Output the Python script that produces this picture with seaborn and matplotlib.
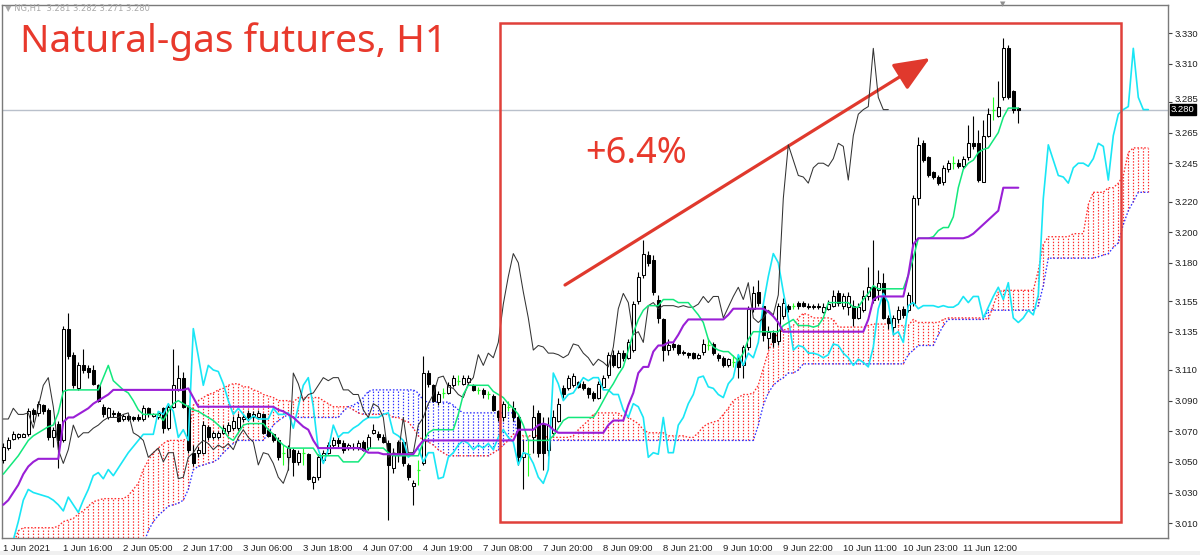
import numpy as np
import matplotlib
matplotlib.use("Agg")
import matplotlib.pyplot as plt
import seaborn as sns
from matplotlib.patches import Rectangle
from matplotlib.transforms import blended_transform_factory, ScaledTranslation

# ---------------- data ----------------
time_labels = ["1 Jun 2021", "1 Jun 16:00", "2 Jun 05:00", "2 Jun 17:00", "3 Jun 06:00",
               "3 Jun 18:00", "4 Jun 07:00", "4 Jun 19:00", "7 Jun 08:00", "7 Jun 20:00",
               "8 Jun 09:00", "8 Jun 21:00", "9 Jun 10:00", "9 Jun 22:00", "10 Jun 11:00",
               "10 Jun 23:00", "11 Jun 12:00"]
label_bars = [0, 12, 24, 36, 48, 60, 72, 84, 96, 108, 120, 132, 144, 156, 168, 180, 192]
price_ticks = [3.330, 3.310, 3.285, 3.265, 3.245, 3.220, 3.200, 3.180, 3.155,
               3.135, 3.110, 3.090, 3.070, 3.050, 3.030, 3.010]
last_price = 3.280

open_ = [3.051, 3.059, 3.065, 3.066, 3.066, 3.068, 3.084, 3.082, 3.087, 3.084,
         3.066, 3.075, 3.064, 3.137, 3.120, 3.098, 3.113, 3.111, 3.110, 3.100,
         3.086, 3.079, 3.082, 3.082, 3.078, 3.080, 3.079, 3.079, 3.078, 3.085,
         3.080, 3.079, 3.085, 3.072, 3.086, 3.097, 3.105, 3.086, 3.056, 3.056,
         3.056, 3.073, 3.066, 3.066, 3.069, 3.070, 3.072, 3.072, 3.078, 3.082,
         3.079, 3.079, 3.081, 3.071, 3.068, 3.064, 3.056, 3.053, 3.058, 3.050,
         3.056, 3.055, 3.037, 3.040, 3.051, 3.056, 3.061, 3.064, 3.062, 3.059,
         3.060, 3.060, 3.063, 3.059, 3.069, 3.068, 3.066, 3.062, 3.046, 3.063,
         3.063, 3.048, 3.034, 3.045, 3.049, 3.108, 3.100, 3.089, 3.095, 3.095,
         3.100, 3.103, 3.101, 3.102, 3.100, 3.097, 3.097, 3.094, 3.093, 3.083,
         3.079, 3.086, 3.085, 3.079, 3.053, 3.055, 3.066, 3.082, 3.075, 3.058,
         3.069, 3.077, 3.098, 3.098, 3.100, 3.102, 3.101, 3.098, 3.095, 3.092,
         3.099, 3.107, 3.120, 3.112, 3.121, 3.118, 3.123, 3.155, 3.172, 3.185,
         3.182, 3.156, 3.143, 3.123, 3.127, 3.126, 3.122, 3.121, 3.121, 3.118,
         3.122, 3.126, 3.127, 3.120, 3.118, 3.113, 3.115, 3.117, 3.113, 3.125,
         3.150, 3.161, 3.152, 3.131, 3.134, 3.129, 3.145, 3.152, 3.152, 3.154,
         3.154, 3.152, 3.151, 3.152, 3.148, 3.150, 3.152, 3.160, 3.152, 3.151,
         3.152, 3.144, 3.149, 3.158, 3.164, 3.162, 3.167, 3.144, 3.138, 3.143,
         3.150, 3.149, 3.154, 3.222, 3.258, 3.249, 3.239, 3.236, 3.233, 3.241,
         3.245, 3.245, 3.243, 3.249, 3.258, 3.258, 3.233, 3.263, 3.280, 3.276,
         3.288, 3.320, 3.292, 3.281]
high = [3.062, 3.066, 3.070, 3.069, 3.069, 3.085, 3.085, 3.090, 3.088, 3.085,
        3.073, 3.077, 3.139, 3.147, 3.122, 3.115, 3.124, 3.113, 3.113, 3.101,
        3.088, 3.086, 3.084, 3.083, 3.081, 3.081, 3.080, 3.081, 3.087, 3.086,
        3.082, 3.083, 3.086, 3.087, 3.124, 3.113, 3.109, 3.087, 3.061, 3.060,
        3.077, 3.074, 3.070, 3.070, 3.074, 3.076, 3.080, 3.082, 3.081, 3.084,
        3.083, 3.084, 3.082, 3.072, 3.069, 3.066, 3.061, 3.061, 3.059, 3.058,
        3.059, 3.056, 3.041, 3.055, 3.058, 3.063, 3.066, 3.066, 3.064, 3.062,
        3.062, 3.064, 3.064, 3.068, 3.075, 3.070, 3.068, 3.064, 3.059, 3.064,
        3.064, 3.049, 3.038, 3.051, 3.119, 3.110, 3.101, 3.096, 3.098, 3.102,
        3.107, 3.107, 3.107, 3.107, 3.101, 3.099, 3.098, 3.096, 3.094, 3.084,
        3.090, 3.090, 3.090, 3.081, 3.064, 3.064, 3.087, 3.084, 3.079, 3.079,
        3.084, 3.092, 3.100, 3.107, 3.108, 3.103, 3.103, 3.099, 3.096, 3.103,
        3.107, 3.122, 3.123, 3.123, 3.123, 3.130, 3.155, 3.174, 3.195, 3.188,
        3.185, 3.159, 3.144, 3.130, 3.129, 3.127, 3.123, 3.122, 3.122, 3.121,
        3.130, 3.131, 3.128, 3.121, 3.119, 3.118, 3.120, 3.120, 3.126, 3.152,
        3.165, 3.169, 3.154, 3.139, 3.136, 3.154, 3.157, 3.153, 3.154, 3.155,
        3.155, 3.154, 3.153, 3.154, 3.154, 3.156, 3.162, 3.162, 3.160, 3.161,
        3.156, 3.154, 3.162, 3.177, 3.195, 3.175, 3.173, 3.146, 3.146, 3.152,
        3.152, 3.161, 3.224, 3.262, 3.260, 3.250, 3.240, 3.237, 3.244, 3.247,
        3.250, 3.248, 3.250, 3.270, 3.276, 3.267, 3.273, 3.281, 3.288, 3.299,
        3.327, 3.322, 3.293, 3.282]
low = [3.049, 3.058, 3.064, 3.065, 3.066, 3.067, 3.076, 3.080, 3.081, 3.064,
       3.060, 3.046, 3.063, 3.117, 3.098, 3.097, 3.108, 3.105, 3.100, 3.089,
       3.079, 3.078, 3.079, 3.076, 3.077, 3.077, 3.077, 3.077, 3.077, 3.079,
       3.079, 3.078, 3.069, 3.071, 3.085, 3.096, 3.085, 3.056, 3.047, 3.053,
       3.055, 3.064, 3.065, 3.065, 3.068, 3.068, 3.071, 3.071, 3.076, 3.077,
       3.077, 3.078, 3.068, 3.066, 3.063, 3.051, 3.048, 3.045, 3.041, 3.048,
       3.048, 3.038, 3.032, 3.038, 3.050, 3.055, 3.060, 3.060, 3.056, 3.058,
       3.058, 3.058, 3.057, 3.058, 3.068, 3.064, 3.062, 3.012, 3.043, 3.050,
       3.047, 3.038, 3.022, 3.035, 3.048, 3.099, 3.089, 3.087, 3.092, 3.094,
       3.099, 3.100, 3.100, 3.100, 3.096, 3.094, 3.092, 3.091, 3.083, 3.077,
       3.077, 3.083, 3.077, 3.048, 3.032, 3.041, 3.056, 3.053, 3.045, 3.054,
       3.067, 3.076, 3.092, 3.097, 3.099, 3.098, 3.097, 3.092, 3.090, 3.091,
       3.098, 3.105, 3.112, 3.111, 3.116, 3.117, 3.122, 3.153, 3.170, 3.178,
       3.159, 3.141, 3.116, 3.120, 3.123, 3.120, 3.120, 3.118, 3.117, 3.117,
       3.120, 3.123, 3.120, 3.116, 3.112, 3.112, 3.112, 3.105, 3.105, 3.123,
       3.148, 3.152, 3.129, 3.124, 3.125, 3.126, 3.143, 3.148, 3.150, 3.150,
       3.151, 3.150, 3.150, 3.150, 3.147, 3.149, 3.151, 3.152, 3.150, 3.146,
       3.139, 3.143, 3.148, 3.156, 3.154, 3.156, 3.143, 3.137, 3.133, 3.141,
       3.144, 3.148, 3.152, 3.218, 3.246, 3.236, 3.235, 3.231, 3.231, 3.239,
       3.241, 3.242, 3.241, 3.247, 3.254, 3.233, 3.233, 3.262, 3.273, 3.275,
       3.286, 3.287, 3.278, 3.271]
close = [3.060, 3.064, 3.068, 3.068, 3.068, 3.083, 3.081, 3.088, 3.083, 3.066,
         3.071, 3.064, 3.137, 3.119, 3.100, 3.113, 3.110, 3.109, 3.101, 3.090,
         3.081, 3.085, 3.081, 3.077, 3.080, 3.078, 3.078, 3.078, 3.085, 3.081,
         3.081, 3.082, 3.072, 3.086, 3.100, 3.105, 3.086, 3.058, 3.049, 3.058,
         3.074, 3.066, 3.069, 3.069, 3.072, 3.074, 3.077, 3.079, 3.079, 3.079,
         3.081, 3.082, 3.069, 3.067, 3.064, 3.053, 3.056, 3.059, 3.050, 3.056,
         3.056, 3.039, 3.040, 3.053, 3.056, 3.061, 3.064, 3.062, 3.058, 3.061,
         3.059, 3.062, 3.058, 3.066, 3.071, 3.066, 3.063, 3.048, 3.056, 3.055,
         3.049, 3.040, 3.036, 3.045, 3.108, 3.101, 3.090, 3.094, 3.095, 3.100,
         3.105, 3.103, 3.105, 3.105, 3.097, 3.097, 3.094, 3.094, 3.084, 3.079,
         3.088, 3.086, 3.079, 3.053, 3.056, 3.055, 3.079, 3.056, 3.056, 3.074,
         3.079, 3.088, 3.094, 3.105, 3.106, 3.099, 3.098, 3.094, 3.092, 3.101,
         3.105, 3.120, 3.113, 3.121, 3.118, 3.128, 3.153, 3.171, 3.186, 3.180,
         3.161, 3.144, 3.123, 3.126, 3.125, 3.121, 3.121, 3.120, 3.118, 3.120,
         3.127, 3.126, 3.121, 3.118, 3.113, 3.117, 3.115, 3.112, 3.125, 3.150,
         3.160, 3.154, 3.133, 3.135, 3.128, 3.152, 3.154, 3.150, 3.152, 3.152,
         3.152, 3.151, 3.152, 3.151, 3.151, 3.153, 3.158, 3.154, 3.158, 3.158,
         3.144, 3.151, 3.158, 3.164, 3.156, 3.167, 3.144, 3.141, 3.144, 3.149,
         3.146, 3.159, 3.222, 3.257, 3.247, 3.237, 3.236, 3.232, 3.242, 3.245,
         3.245, 3.243, 3.248, 3.258, 3.256, 3.234, 3.263, 3.277, 3.280, 3.282,
         3.320, 3.288, 3.280, 3.280]
# closes of the 26 bars before the first visible bar (seen in the forward-shifted line)
prior_close = [2.983, 2.989, 2.999, 3.011, 3.025, 3.032, 3.030, 3.029, 3.028, 3.027,
               3.025, 3.022, 3.018, 3.027, 3.022, 3.017, 3.025, 3.032, 3.041, 3.043,
               3.039, 3.045, 3.041, 3.046, 3.051, 3.056]
tenkan = [3.042, 3.046, 3.050, 3.054, 3.059, 3.064, 3.067, 3.069, 3.071, 3.073,
          3.074, 3.082, 3.096, 3.097, 3.097, 3.097, 3.097, 3.097, 3.097, 3.097,
          3.105, 3.113, 3.103, 3.100, 3.097, 3.095, 3.090, 3.084, 3.081, 3.081,
          3.081, 3.081, 3.077, 3.083, 3.088, 3.090, 3.088, 3.086, 3.084, 3.083,
          3.081, 3.079, 3.077, 3.074, 3.071, 3.066, 3.064, 3.069, 3.074, 3.075,
          3.075, 3.075, 3.075, 3.071, 3.068, 3.064, 3.061, 3.059, 3.059, 3.059,
          3.059, 3.059, 3.059, 3.054, 3.054, 3.054, 3.054, 3.054, 3.050, 3.050,
          3.050, 3.050, 3.054, 3.059, 3.059, 3.059, 3.059, 3.056, 3.054, 3.054,
          3.054, 3.054, 3.054, 3.054, 3.063, 3.069, 3.071, 3.071, 3.071, 3.071,
          3.071, 3.081, 3.094, 3.100, 3.100, 3.100, 3.100, 3.100, 3.096, 3.094,
          3.092, 3.088, 3.085, 3.081, 3.074, 3.064, 3.064, 3.064, 3.064, 3.064,
          3.067, 3.072, 3.077, 3.079, 3.079, 3.079, 3.079, 3.079, 3.079, 3.084,
          3.090, 3.096, 3.101, 3.107, 3.112, 3.123, 3.134, 3.143, 3.149, 3.152,
          3.152, 3.152, 3.156, 3.156, 3.156, 3.154, 3.154, 3.154, 3.150, 3.146,
          3.141, 3.130, 3.125, 3.123, 3.122, 3.122, 3.119, 3.116, 3.121, 3.130,
          3.135, 3.135, 3.135, 3.135, 3.135, 3.135, 3.139, 3.141, 3.143, 3.139,
          3.139, 3.139, 3.138, 3.139, 3.144, 3.154, 3.154, 3.154, 3.154, 3.154,
          3.151, 3.151, 3.156, 3.160, 3.165, 3.163, 3.163, 3.163, 3.163, 3.163,
          3.163, 3.172, 3.183, 3.196, 3.196, 3.196, 3.197, 3.201, 3.203, 3.203,
          3.210, 3.229, 3.241, 3.245, 3.247, 3.252, 3.254, 3.255, 3.260, 3.265,
          3.275, 3.281, 3.281, 3.281]
kijun = [3.022, 3.025, 3.030, 3.035, 3.042, 3.047, 3.050, 3.052, 3.052, 3.052,
         3.052, 3.052, 3.076, 3.079, 3.079, 3.081, 3.083, 3.085, 3.088, 3.090,
         3.092, 3.094, 3.097, 3.097, 3.097, 3.097, 3.097, 3.097, 3.097, 3.097,
         3.097, 3.097, 3.097, 3.097, 3.097, 3.097, 3.097, 3.098, 3.092, 3.086,
         3.086, 3.086, 3.086, 3.086, 3.086, 3.086, 3.086, 3.086, 3.086, 3.086,
         3.086, 3.086, 3.086, 3.086, 3.086, 3.084, 3.083, 3.081, 3.079, 3.076,
         3.073, 3.071, 3.064, 3.059, 3.059, 3.059, 3.059, 3.059, 3.059, 3.059,
         3.059, 3.059, 3.058, 3.056, 3.056, 3.056, 3.055, 3.055, 3.055, 3.055,
         3.055, 3.055, 3.055, 3.060, 3.064, 3.064, 3.064, 3.064, 3.064, 3.064,
         3.064, 3.064, 3.064, 3.064, 3.064, 3.064, 3.064, 3.064, 3.064, 3.064,
         3.064, 3.064, 3.064, 3.071, 3.071, 3.071, 3.071, 3.074, 3.075, 3.074,
         3.071, 3.069, 3.069, 3.069, 3.069, 3.069, 3.069, 3.069, 3.069, 3.069,
         3.069, 3.074, 3.077, 3.077, 3.077, 3.087, 3.095, 3.108, 3.112, 3.112,
         3.122, 3.126, 3.126, 3.128, 3.128, 3.133, 3.139, 3.143, 3.143, 3.143,
         3.143, 3.143, 3.143, 3.143, 3.143, 3.146, 3.150, 3.150, 3.150, 3.150,
         3.150, 3.150, 3.150, 3.148, 3.145, 3.141, 3.135, 3.135, 3.135, 3.135,
         3.135, 3.135, 3.135, 3.135, 3.135, 3.135, 3.135, 3.135, 3.135, 3.135,
         3.135, 3.135, 3.135, 3.143, 3.156, 3.158, 3.158, 3.158, 3.158, 3.158,
         3.158, 3.172, 3.192, 3.196, 3.196, 3.196, 3.196, 3.196, 3.196, 3.196,
         3.196, 3.196, 3.196, 3.197, 3.199, 3.202, 3.205, 3.208, 3.211, 3.214,
         3.229, 3.229, 3.229, 3.229]
span_a = [2.986, 2.989, 2.996, 3.005, 3.007, 3.007, 3.007, 3.007, 3.007, 3.007,
          3.007, 3.008, 3.011, 3.012, 3.013, 3.016, 3.018, 3.021, 3.024, 3.025,
          3.026, 3.026, 3.026, 3.026, 3.026, 3.028, 3.032, 3.036, 3.045, 3.051,
          3.056, 3.059, 3.062, 3.064, 3.064, 3.064, 3.064, 3.066, 3.087, 3.090,
          3.092, 3.094, 3.095, 3.097, 3.098, 3.100, 3.101, 3.101, 3.099, 3.099,
          3.097, 3.096, 3.094, 3.093, 3.092, 3.090, 3.090, 3.090, 3.089, 3.092,
          3.092, 3.092, 3.092, 3.092, 3.090, 3.088, 3.086, 3.086, 3.086, 3.086,
          3.084, 3.082, 3.081, 3.081, 3.081, 3.081, 3.081, 3.081, 3.079, 3.079,
          3.077, 3.076, 3.072, 3.067, 3.064, 3.063, 3.061, 3.058, 3.056, 3.054,
          3.054, 3.054, 3.054, 3.054, 3.054, 3.054, 3.054, 3.054, 3.056, 3.058,
          3.061, 3.064, 3.068, 3.069, 3.067, 3.067, 3.067, 3.067, 3.067, 3.066,
          3.066, 3.066, 3.066, 3.066, 3.067, 3.071, 3.074, 3.077, 3.081, 3.082,
          3.082, 3.082, 3.082, 3.082, 3.079, 3.079, 3.077, 3.075, 3.071, 3.069,
          3.069, 3.069, 3.069, 3.067, 3.067, 3.067, 3.067, 3.066, 3.066, 3.069,
          3.073, 3.075, 3.076, 3.077, 3.081, 3.085, 3.090, 3.092, 3.094, 3.094,
          3.095, 3.100, 3.111, 3.122, 3.130, 3.134, 3.136, 3.137, 3.139, 3.144,
          3.147, 3.146, 3.144, 3.144, 3.144, 3.144, 3.143, 3.138, 3.138, 3.138,
          3.138, 3.138, 3.138, 3.139, 3.140, 3.140, 3.140, 3.140, 3.139, 3.139,
          3.139, 3.139, 3.143, 3.141, 3.141, 3.141, 3.141, 3.141, 3.143, 3.144,
          3.144, 3.144, 3.144, 3.144, 3.144, 3.144, 3.144, 3.143, 3.152, 3.161,
          3.162, 3.162, 3.162, 3.162, 3.162, 3.162, 3.162, 3.175, 3.192, 3.197,
          3.197, 3.197, 3.197, 3.197, 3.199, 3.199, 3.199, 3.218, 3.226, 3.226,
          3.226, 3.229, 3.229, 3.232, 3.237, 3.252, 3.255, 3.255, 3.255, 3.255]
span_b = [2.975, 2.975, 2.975, 2.975, 2.975, 2.975, 2.975, 2.975, 2.975, 2.975,
          2.975, 2.975, 2.975, 2.975, 2.975, 2.975, 2.975, 2.975, 2.975, 2.975,
          2.975, 2.975, 2.975, 2.975, 2.975, 2.975, 2.975, 2.975, 2.996, 3.005,
          3.011, 3.015, 3.018, 3.021, 3.022, 3.023, 3.025, 3.032, 3.045, 3.047,
          3.048, 3.049, 3.050, 3.052, 3.056, 3.059, 3.062, 3.064, 3.064, 3.064,
          3.064, 3.064, 3.064, 3.069, 3.074, 3.077, 3.079, 3.081, 3.079, 3.079,
          3.079, 3.079, 3.079, 3.079, 3.079, 3.079, 3.079, 3.079, 3.083, 3.086,
          3.087, 3.089, 3.092, 3.096, 3.097, 3.097, 3.097, 3.097, 3.097, 3.097,
          3.097, 3.097, 3.097, 3.095, 3.090, 3.089, 3.089, 3.089, 3.089, 3.089,
          3.087, 3.084, 3.082, 3.082, 3.082, 3.082, 3.082, 3.082, 3.082, 3.082,
          3.082, 3.082, 3.082, 3.064, 3.064, 3.064, 3.064, 3.064, 3.064, 3.064,
          3.064, 3.064, 3.064, 3.064, 3.064, 3.064, 3.064, 3.064, 3.064, 3.064,
          3.064, 3.064, 3.064, 3.064, 3.064, 3.064, 3.064, 3.064, 3.064, 3.064,
          3.064, 3.064, 3.064, 3.064, 3.064, 3.064, 3.064, 3.064, 3.064, 3.064,
          3.064, 3.064, 3.064, 3.064, 3.064, 3.064, 3.064, 3.064, 3.064, 3.064,
          3.064, 3.074, 3.087, 3.095, 3.100, 3.103, 3.105, 3.108, 3.108, 3.110,
          3.114, 3.114, 3.114, 3.114, 3.114, 3.114, 3.114, 3.114, 3.114, 3.114,
          3.114, 3.114, 3.114, 3.114, 3.114, 3.114, 3.114, 3.114, 3.114, 3.114,
          3.114, 3.120, 3.123, 3.126, 3.126, 3.126, 3.126, 3.133, 3.139, 3.143,
          3.143, 3.143, 3.143, 3.143, 3.143, 3.143, 3.143, 3.149, 3.149, 3.149,
          3.149, 3.149, 3.149, 3.149, 3.149, 3.149, 3.149, 3.152, 3.165, 3.183,
          3.183, 3.183, 3.183, 3.183, 3.183, 3.183, 3.183, 3.183, 3.183, 3.184,
          3.185, 3.186, 3.190, 3.193, 3.205, 3.214, 3.220, 3.226, 3.226, 3.226]

SHIFT = 26

# ---------------- style ----------------
sns.set_style("white")
plt.rcParams['font.family'] = ['Liberation Sans', 'DejaVu Sans']

RED_TXT = '#e8392c'
GREEN = '#12e87c'
PURPLE = '#9a1fd6'
CYAN = '#19e6f5'
CLOUD_RED = '#ff2a2a'
CLOUD_BLUE = '#2f2fff'
LIME = '#22ff22'
DOT = (0, (1.2, 1.4))

fig = plt.figure(figsize=(12, 5.55), dpi=100)
fig.patch.set_facecolor('white')
ax = fig.add_axes([2 / 1200, 1 - 538 / 555, 1166 / 1200, 533 / 555])
ax.set_facecolor('white')

o = np.array(open_); h = np.array(high); l = np.array(low); c = np.array(close)
bars = np.arange(len(c))

# ---- Ichimoku cloud (vertical dotted hatching) ----
a = np.array(span_a); b = np.array(span_b)
cx = np.arange(len(a))
up = a >= b
ax.vlines(cx[up], b[up], a[up], colors=CLOUD_RED, linestyles=DOT, lw=0.85, zorder=1)
ax.vlines(cx[~up], a[~up], b[~up], colors=CLOUD_BLUE, linestyles=DOT, lw=0.85, zorder=1)
ax.plot(cx, a, color=CLOUD_RED, ls=DOT, lw=0.95, zorder=1.5)
ax.plot(cx, b, color=CLOUD_BLUE, ls=DOT, lw=0.95, zorder=1.5)

# ---- candles ----
doji = o == c
upc = (c > o)
dnc = (c < o)
nd = ~doji
ax.vlines(bars[nd], l[nd], h[nd], colors='black', lw=0.8, zorder=3)
body_lo = np.minimum(o, c); body_h = np.abs(c - o)
ax.bar(bars[upc], body_h[upc], bottom=body_lo[upc], width=0.62, color='white',
       edgecolor='black', linewidth=0.75, zorder=3.2)
ax.bar(bars[dnc], body_h[dnc], bottom=body_lo[dnc], width=0.62, color='black',
       edgecolor='black', linewidth=0.75, zorder=3.2)
ax.vlines(bars[doji], l[doji], h[doji], colors=LIME, lw=0.8, zorder=3)
ax.hlines(c[doji], bars[doji] - 0.35, bars[doji] + 0.35, colors=LIME, lw=0.9, zorder=3)

# ---- indicator lines ----
all_close = np.array(prior_close + close)
sns.lineplot(x=np.arange(len(all_close)), y=all_close, color=CYAN, lw=1.2, ax=ax, zorder=4)
sns.lineplot(x=bars[:-SHIFT], y=c[SHIFT:], color='#333333', lw=0.75, ax=ax, zorder=4)
sns.lineplot(x=bars, y=np.array(tenkan), color=GREEN, lw=1.1, ax=ax, zorder=4.2)
sns.lineplot(x=bars, y=np.array(kijun), color=PURPLE, lw=1.5, ax=ax, zorder=4.3)

# current price line
ax.axhline(last_price, color='#b9c0cb', lw=1.0, zorder=0.8)

# ---- axes ----
ax.set_xlim(-0.26, 232.94)
ax.set_ylim(3.0003, 3.3483)
for s in ax.spines.values():
    s.set_color('#7a7a7a'); s.set_linewidth(1.0)
ax.yaxis.tick_right()
ax.set_yticks(price_ticks)
ax.set_yticklabels([f"{v:.3f}" for v in price_ticks])
ax.tick_params(axis='y', direction='out', length=3, width=0.8, labelsize=6.8,
               pad=2, color='#404040', labelcolor='#202020')
ax.set_xticks(label_bars)
ax.set_xticklabels(time_labels)
ax.tick_params(axis='x', direction='out', length=3, width=0.8, labelsize=6.8,
               pad=1, color='#404040', labelcolor='#202020')
for lab in ax.get_xticklabels():
    lab.set_horizontalalignment('left')
# nudge the label just above the price tag upward a little (as in the original)
for lab, v in zip(ax.get_yticklabels(), price_ticks):
    if abs(v - 3.285) < 1e-9:
        lab.set_transform(lab.get_transform() + ScaledTranslation(0, 3 / 100, fig.dpi_scale_trans))
ax.set_xlabel(''); ax.set_ylabel('')

# price tag on the right
tr = blended_transform_factory(ax.transAxes, ax.transData)
ax.text(1.0025, last_price, f"{last_price:.3f}", transform=tr, color='white', fontsize=6.8,
        va='center', ha='left', zorder=10,
        bbox=dict(boxstyle='square,pad=0.1', fc='black', ec='black'))

# ---- annotations ----
fig.text(5 / 1200, 1 - 8 / 555, "\u25bc NG,H1  3.281 3.282 3.271 3.280", fontsize=6,
         color='#a8a8a8', va='center', ha='left', family=['DejaVu Sans'])
fig.text(1003 / 1200, 1 - 4 / 555, "\u25bc", fontsize=5, color='#909090', va='center',
         ha='center', family=['DejaVu Sans'])
fig.text(20 / 1200, 1 - 52 / 555, "Natural-gas futures, H1", fontsize=28, color=RED_TXT,
         va='baseline', ha='left', family=['Noto Sans', 'DejaVu Sans'])
fig.text(585 / 1200, 1 - 163 / 555, "+6.4%", fontsize=26, color=RED_TXT,
         va='baseline', ha='left', family=['Noto Sans', 'DejaVu Sans'])
fig.add_artist(Rectangle((500 / 1200, 1 - 522 / 555), 621 / 1200, 499 / 555,
                         transform=fig.transFigure, fill=False, ec='#e0403a', lw=1.8))
ax.annotate('', xy=(930, 555 - 58), xycoords='figure pixels',
            xytext=(565, 555 - 285), textcoords='figure pixels',
            arrowprops=dict(arrowstyle='-|>,head_length=1.0,head_width=0.42',
                            mutation_scale=22, lw=2.3, color='#e0392d',
                            shrinkA=0, shrinkB=0))
fig.add_artist(Rectangle((0, 0), 1, 4 / 555, transform=fig.transFigure,
                         fc='#f0f0f0', ec='none'))

fig.savefig("out.png", dpi=100, facecolor='white')
